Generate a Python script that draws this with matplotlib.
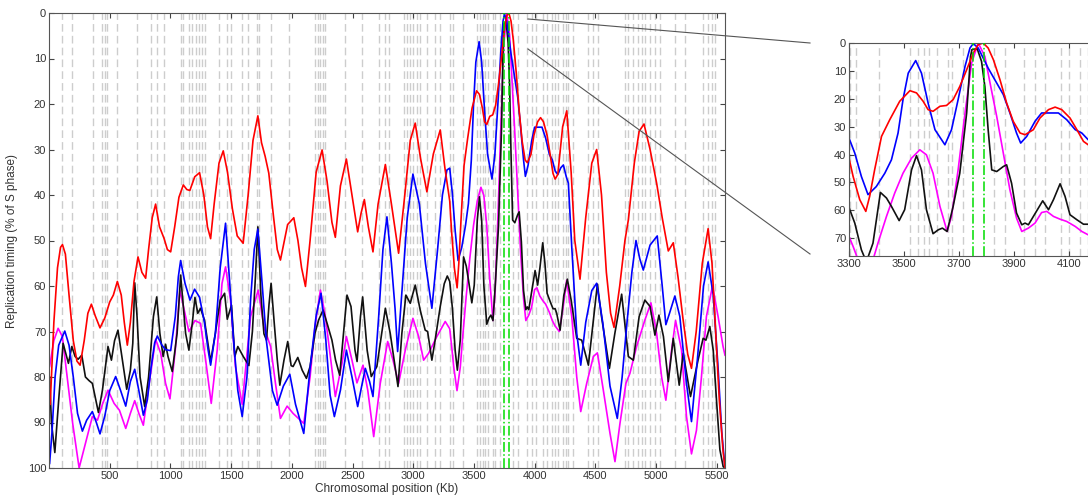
import matplotlib
matplotlib.use("Agg")
import matplotlib.pyplot as plt
from matplotlib.lines import Line2D

plt.rcParams['font.family'] = ['Liberation Sans', 'DejaVu Sans']

# origin positions (kb), light grey dashed markers
origin_kb = [111, 193, 366, 440, 459, 481, 563, 722, 842, 886, 947, 1084, 1106,
             1152, 1180, 1207, 1234, 1262, 1281, 1399, 1468, 1495, 1591, 1638,
             1709, 1728, 1829, 1974, 2194, 2213, 2235, 2257, 2276, 2441, 2578,
             2715, 2769, 2797, 2920, 2948, 2975, 2997, 3030, 3057, 3112, 3181,
             3222, 3304, 3326, 3408, 3523, 3551, 3573, 3592, 3619, 3660, 3674,
             3715, 3825, 3866, 3934, 3976, 4011, 4071, 4099, 4140, 4167, 4195,
             4236, 4258, 4277, 4318, 4441, 4483, 4524, 4743, 4771, 4812, 4853,
             4880, 4908, 4949, 4990, 5031, 5154, 5236, 5387, 5428, 5456, 5483]
green_kb = [3750, 3790]

red_kb = [10, 40, 70, 95, 111, 135, 165, 200, 230, 256, 290, 320, 349, 380, 420,
          460, 500, 530, 563, 595, 620, 645, 670, 700, 733, 765, 796, 820, 850,
          878, 910, 947, 975, 1002, 1035, 1070, 1106, 1135, 1160, 1200, 1240,
          1275, 1305, 1331, 1360, 1400, 1435, 1470, 1510, 1550, 1599, 1640, 1680,
          1720, 1750, 1780, 1810, 1850, 1880, 1906, 1935, 1965, 2016, 2050, 2080,
          2112, 2150, 2200, 2249, 2290, 2330, 2358, 2400, 2449, 2495, 2542, 2570,
          2597, 2630, 2668, 2710, 2770, 2820, 2879, 2930, 2975, 3016, 3060, 3112,
          3165, 3222, 3260, 3300, 3315, 3339, 3361, 3375, 3393, 3418, 3448, 3484,
          3521, 3545, 3569, 3587, 3605, 3630, 3654, 3678, 3702, 3727, 3751, 3769,
          3787, 3805, 3824, 3848, 3872, 3896, 3921, 3939, 3969, 3993, 4024, 4048,
          4072, 4102, 4127, 4151, 4168, 4190, 4230, 4264, 4300, 4330, 4373, 4420,
          4470, 4510, 4550, 4590, 4625, 4653, 4700, 4743, 4771, 4820, 4860, 4900,
          4950, 5004, 5050, 5100, 5141, 5180, 5220, 5260, 5291, 5330, 5380, 5428,
          5460, 5490, 5520, 5550, 5567]
red_val = [86, 68, 56, 51.5, 50.9, 53, 62, 72, 76.5, 77.4, 72, 66, 64, 66.5, 69.2,
           67, 63.5, 62, 59, 62, 68, 73, 68, 59, 53.6, 57, 58.3, 52, 45,
           42, 47, 49.5, 52, 52.5, 47, 40.5, 37.8, 38.8, 39, 36, 35.1,
           40, 47, 49.6, 42, 33, 30.3, 35, 43, 49, 50.6, 40, 28,
           22.6, 28.5, 31.5, 35.2, 45, 52, 54.3, 50.5, 46.5, 45, 50, 56,
           60.1, 50, 35, 30.1, 37, 46, 49.3, 38, 32.1, 40, 48.1, 44,
           41, 47, 52.5, 42, 33.3, 42, 52.8, 40, 28, 24.2, 32, 39.3,
           31, 25.7, 34, 41.3, 47.9, 56.2, 60.4, 55, 45.5, 33.5, 27.5, 20.9,
           17.1, 17.9, 20.9, 23.9, 24.5, 22.7, 22.4, 20.3, 15.6, 9.6, 3.6, 0.6,
           0, 1.8, 6, 13.2, 21.5, 28.1, 32.3, 32.9, 31.1, 26.9, 23.9, 23,
           23.9, 26.9, 31.1, 35.3, 36.5, 35.5, 25, 21.5, 35, 50, 58.5, 45,
           33, 30, 40, 57, 66, 69.1, 60, 50, 45.5, 33, 26, 24.4,
           30, 37.4, 45, 52.3, 50.5, 58, 67, 75, 78.1, 70, 55, 47.4,
           55, 70, 85, 96, 100]

blue_kb = [5, 25, 50, 80, 130, 165, 200, 235, 275, 310, 357, 390, 420, 460, 500,
           549, 590, 632, 670, 706, 740, 777, 810, 840, 870, 892, 930, 960, 1002,
           1040, 1065, 1084, 1120, 1161, 1199, 1240, 1280, 1310, 1331, 1370, 1410,
           1454, 1490, 1520, 1555, 1591, 1630, 1660, 1690, 1720, 1755, 1790, 1840,
           1879, 1930, 1983, 2030, 2098, 2150, 2200, 2240, 2280, 2315, 2350, 2400,
           2449, 2495, 2542, 2575, 2605, 2640, 2668, 2715, 2750, 2783, 2820, 2850,
           2871, 2910, 2950, 2997, 3050, 3100, 3153, 3200, 3240, 3277, 3300, 3321,
           3345, 3369, 3399, 3430, 3454, 3478, 3496, 3515, 3542, 3563, 3587, 3612,
           3648, 3672, 3696, 3721, 3739, 3751, 3769, 3787, 3805, 3836, 3860, 3884,
           3908, 3923, 3945, 3975, 3999, 4030, 4060, 4090, 4121, 4145, 4168, 4190,
           4215, 4236, 4260, 4277, 4305, 4346, 4379, 4420, 4470, 4510, 4560, 4620,
           4680, 4720, 4760, 4800, 4834, 4865, 4894, 4950, 5009, 5050, 5080, 5110,
           5154, 5195, 5250, 5291, 5340, 5390, 5428, 5470, 5510, 5540, 5567]
blue_val = [99, 92, 80, 73, 69.9, 73, 80, 88, 91.9, 89.5, 87.6, 90, 92.5, 88.5, 83,
            79.9, 83, 86.4, 81, 78.3, 83, 88.4, 85, 78, 72.5, 71, 73, 74, 74.2,
            66.7, 58, 54.4, 59.4, 63.1, 60.7, 62.5, 68, 74, 77.4, 70.4, 56,
            46.2, 60, 72, 83, 88.7, 80, 63.1, 52, 47.5, 59.4, 72, 83,
            86.2, 82, 79.4, 86, 92.4, 78, 66.5, 61.6, 72, 84, 88.7, 82.9,
            74.1, 80, 86.5, 82, 78.1, 81, 84.3, 66.7, 52, 44.8, 55, 65,
            74.4, 60, 45, 35.4, 42, 55, 64.9, 52, 40, 34.5, 34.1, 39.5,
            47.9, 54.4, 51.5, 46.7, 41.9, 32.3, 20.3, 10.8, 6.3, 10.8, 21.5, 31.1,
            36.5, 31.1, 20.3, 8.4, 1.8, 0.2, 1.8, 5.4, 9, 14.4, 18.5, 25.1,
            32.3, 35.9, 33.5, 28.1, 25.1, 25.1, 25.1, 27.5, 31.1, 32.3, 34.7, 35.5,
            34, 33.4, 36, 37.4, 51.4, 70.4, 77.4, 68, 61, 59.4, 68, 82,
            89.1, 80, 68, 57, 50, 54, 56.5, 51, 49, 60, 68.5, 66,
            62.2, 66.7, 81.4, 89.8, 76, 60, 54.7, 62, 78, 92, 100]

black_kb = [5, 20, 48, 80, 116, 140, 160, 188, 215, 240, 270, 300, 330, 357, 385,
            407, 440, 486, 514, 540, 568, 600, 640, 670, 690, 706, 725, 750, 788,
            820, 860, 887, 913, 940, 960, 980, 1015, 1055, 1084, 1125, 1152, 1180,
            1202, 1225, 1248, 1280, 1305, 1331, 1370, 1410, 1446, 1468, 1503, 1530,
            1555, 1600, 1646, 1675, 1700, 1720, 1745, 1770, 1791, 1812, 1829, 1855,
            1880, 1901, 1935, 1966, 1994, 2010, 2049, 2085, 2120, 2150, 2190, 2220,
            2257, 2290, 2330, 2360, 2394, 2425, 2454, 2487, 2520, 2537, 2565, 2583,
            2620, 2654, 2700, 2740, 2770, 2810, 2850, 2874, 2906, 2939, 2975, 3016,
            3057, 3098, 3118, 3153, 3180, 3222, 3255, 3280, 3300, 3321, 3345, 3363,
            3387, 3414, 3436, 3454, 3482, 3502, 3527, 3545, 3563, 3581, 3605, 3624,
            3639, 3656, 3678, 3702, 3727, 3741, 3746, 3765, 3781, 3793, 3805, 3818,
            3836, 3860, 3872, 3890, 3908, 3927, 3939, 3951, 3969, 4003, 4024, 4042,
            4066, 4084, 4102, 4127, 4151, 4168, 4181, 4209, 4240, 4269, 4300, 4346,
            4387, 4442, 4480, 4516, 4550, 4615, 4660, 4716, 4745, 4771, 4812, 4860,
            4907, 4950, 4990, 5023, 5060, 5100, 5141, 5190, 5223, 5283, 5345, 5387,
            5410, 5442, 5470, 5497, 5525, 5552, 5567]
black_val = [80, 90, 96.6, 85, 72.6, 75, 77, 73.3, 75.5, 76.1, 75.2, 80, 80.8, 81.4, 85,
             87.8, 82.9, 73.3, 76.3, 72, 69.7, 75.5, 82.7, 78.5, 72.6, 59.3, 66.7, 80, 86.5,
             80, 66.7, 62.4, 70.4, 75.5, 72.8, 75.5, 78.8, 70.4, 57.6, 70.4, 74.1, 68.2,
             62.5, 66, 64.9, 67.5, 71.9, 76.6, 70.4, 63.1, 61.6, 67.3, 64.2, 75.5,
             73.3, 75.5, 77.5, 70, 58, 47, 62, 70.5, 71.9, 64, 59.4, 68.2,
             76.3, 81.8, 76.3, 72.2, 77.5, 77.7, 75.7, 78.5, 80.3, 77.7, 70.4, 67.5,
             65.3, 68.2, 71.9, 76.3, 79.6, 70.4, 62, 64.5, 74.1, 76.6, 66.7, 62.4,
             74.1, 79.9, 77.7, 70.4, 64.9, 70.4, 77.7, 82.1, 70.4, 62, 63.8, 59.8,
             65.3, 69.7, 70, 76.3, 71.9, 64.5, 59.5, 57.8, 59, 64.6, 74.2, 78.5,
             71.8, 53.6, 55.6, 58.6, 63.7, 59.8, 45.5, 40.4, 45.5, 59.8, 68.4, 67,
             66.4, 67.6, 58.6, 46.7, 25.1, 4.8, 2.4, 2, 6.6, 15.6, 31.1, 45.5,
             46.1, 44.3, 43.7, 50.3, 61, 65.2, 64.6, 65.2, 62.2, 56.6, 59.8, 56.2,
             50.5, 55, 61.6, 63.4, 65, 65, 66, 69.7, 62, 58.5, 63.1, 71.5,
             71.9, 77.4, 68.2, 59.6, 66.7, 78.1, 70.4, 61.8, 69, 75.5, 76.3, 66.7,
             63.1, 64.5, 70.8, 66.4, 71.1, 81, 71.5, 81.8, 74.8, 84.3, 76.3, 71.5,
             71.9, 68.9, 74.1, 85.1, 96, 99.7, 100]

magenta_kb = [5, 40, 75, 110, 150, 195, 248, 300, 357, 399, 440, 486, 536, 580, 632,
              670, 706, 740, 777, 825, 878, 920, 960, 996, 1040, 1078, 1125, 1152,
              1202, 1248, 1290, 1336, 1385, 1425, 1454, 1495, 1535, 1591, 1660, 1723,
              1770, 1825, 1865, 1906, 1961, 2010, 2098, 2150, 2190, 2235, 2276, 2317,
              2358, 2413, 2449, 2495, 2536, 2586, 2625, 2674, 2728, 2789, 2833, 2879,
              2934, 2997, 3044, 3085, 3126, 3194, 3263, 3300, 3315, 3333, 3360, 3387,
              3405, 3436, 3466, 3496, 3527, 3557, 3581, 3605, 3630, 3656, 3672, 3696,
              3721, 3745, 3769, 3793, 3812, 3836, 3860, 3884, 3908, 3927, 3951, 3975,
              3999, 4018, 4042, 4066, 4090, 4121, 4145, 4168, 4203, 4235, 4263, 4305,
              4346, 4379, 4428, 4483, 4516, 4565, 4620, 4661, 4702, 4751, 4784, 4839,
              4907, 4957, 5004, 5045, 5080, 5127, 5160, 5209, 5250, 5291, 5332, 5373,
              5414, 5464, 5510, 5551, 5567]
magenta_val = [77.7, 72, 69.3, 71.1, 80, 90.2, 100, 94.6, 88.7, 89.5, 86, 82.9, 85.8, 87.3, 91.3,
               88, 85.2, 88, 90.6, 81.4, 71.7, 74.8, 81.4, 84.8, 74.1, 60.9, 66.7, 70,
               67.6, 68.2, 76.3, 85.8, 74.1, 59.4, 55.8, 63.1, 77.7, 86, 66.7, 60.9,
               69, 73.3, 81.4, 89.1, 86.4, 88, 90.2, 80, 69, 60.9, 66.7, 75.5,
               84.3, 77, 71.1, 76.3, 81.3, 77.4, 82.9, 93.1, 81.4, 72.2, 76.3, 81.4,
               74.1, 67.1, 71.1, 76.3, 74.8, 71.1, 67.8, 69.4, 73, 77.8, 83, 77.8,
               71.8, 62.2, 53.8, 46.7, 41.3, 38.3, 40.1, 46.7, 58.6, 67.6, 62.2, 45.5,
               25.1, 7.2, 0, 4.8, 14.4, 26.3, 39.5, 52.7, 62.8, 67.6, 66.4, 64.6,
               60.8, 60.4, 62.2, 63.2, 64, 65.8, 67.6, 68.8, 70, 64.5, 58.7, 66.7,
               80, 87.6, 81.4, 75.5, 74.7, 82.9, 92.4, 98.6, 90.2, 81.4, 79.2, 73.3,
               67.5, 63.7, 70.4, 80, 85.1, 74.1, 67.6, 74.1, 88.7, 96.9, 91.7, 80,
               66.7, 60, 66.7, 73.3, 75.2]

W, H = 1088, 499
TICK_COLOR = "#444444"
GREY = "#cdcdcd"


def draw_panel(ax):
    for x in origin_kb:
        ax.axvline(x, color=GREY, lw=1.0, linestyle=(0, (5.5, 3)), zorder=1)
    ax.plot(magenta_kb, magenta_val, color="#ff00ff", lw=1.2, zorder=2)
    ax.plot(black_kb, black_val, color="#111111", lw=1.2, zorder=2)
    ax.plot(blue_kb, blue_val, color="#0000ff", lw=1.2, zorder=2)
    ax.plot(red_kb, red_val, color="#ff0000", lw=1.2, zorder=2)
    for x in green_kb:
        ax.axvline(x, color="#00dd00", lw=1.1, linestyle="-.", zorder=3)
    ax.tick_params(direction="in", top=True, right=True, length=3.5,
                   width=0.8, color=TICK_COLOR, labelsize=8, labelcolor="#333333", pad=2)
    for sp in ax.spines.values():
        sp.set_color("#555555")
        sp.set_linewidth(0.8)


fig = plt.figure(figsize=(W / 100, H / 100), dpi=100)
fig.patch.set_facecolor("white")

# main panel
ax = fig.add_axes([49 / W, 1 - 468 / H, 676 / W, 455 / H])
draw_panel(ax)
ax.set_xlim(0, 5567)
ax.set_ylim(100, 0)
ax.set_xticks(range(500, 5501, 500))
ax.set_yticks(range(0, 101, 10))
ax.set_xlabel("Chromosomal position (Kb)", fontsize=8.5, color="#333333")
ax.set_ylabel("Replication timing (% of S phase)", fontsize=8.5, color="#333333")
ax.xaxis.set_label_coords(0.5, -0.034)
ax.yaxis.set_label_coords(-0.046, 0.5)

# zoomed panel
axz = fig.add_axes([849 / W, 1 - 256 / H, 248 / W, 213 / H])
draw_panel(axz)
axz.set_xlim(3300, 4200)
axz.set_ylim(76.4, 0)
axz.set_xticks(range(3300, 4101, 200))
axz.set_yticks(range(0, 71, 10))

# connector lines
for (x0, y0), (x1, y1) in [((528, 19), (810, 43)), ((528, 49), (810, 254))]:
    fig.add_artist(Line2D([x0 / W, x1 / W], [1 - y0 / H, 1 - y1 / H],
                          transform=fig.transFigure, color="#555555", lw=0.8))

fig.savefig("out.png", dpi=100)
plt.close(fig)
